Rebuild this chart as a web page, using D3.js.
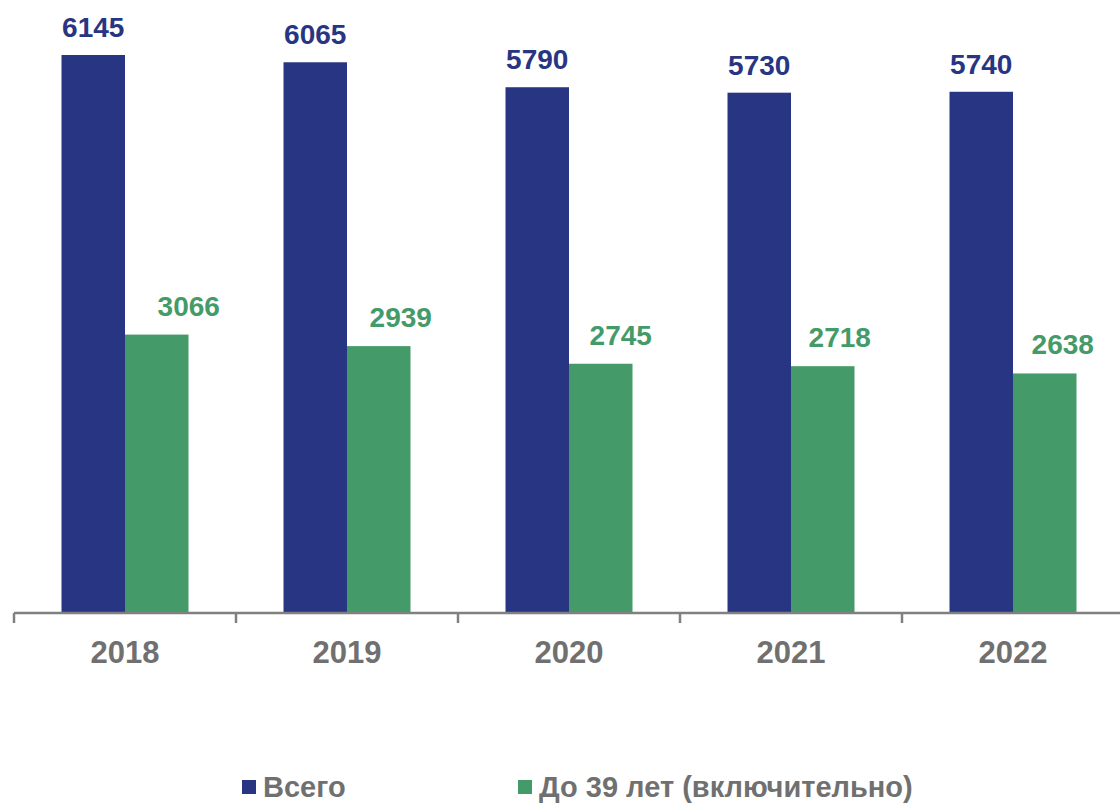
<!DOCTYPE html>
<html>
<head>
<meta charset="utf-8">
<script src="https://cdn.jsdelivr.net/npm/d3@7"></script>
<style>
  html, body { margin: 0; padding: 0; background: #ffffff; }
  svg { display: block; font-family: Arial, "Liberation Sans", sans-serif; }
</style>
</head>
<body>
<svg id="chart" width="1120" height="805"></svg>
<script>
// ---- data ----
const years = ["2018", "2019", "2020", "2021", "2022"];
const seriesNames = ["Всего", "До 39 лет (включительно)"];
const totalValues = [6145, 6065, 5790, 5730, 5740];
const youngValues = [3066, 2939, 2745, 2718, 2638];

// ---- style ----
const colors = ["#283583", "#449a68"];
const greenLabelNudge = [32, 22, 20, 17, 18];
const axisColor = "#808080";
const textGray = "#707070";

const svg = d3.select("#chart");
const baseY = 613;

const x = d3.scaleBand().domain(years).range([14, 1124]).paddingInner(0).paddingOuter(0);
const groupW = 127;
const x1 = d3.scaleBand().domain([0, 1]).range([0, groupW]).padding(0);
const y = d3.scaleLinear().domain([0, 6145]).range([baseY, 55]);

const rows = years.map((yr, i) => ({ year: yr, i, vals: [totalValues[i], youngValues[i]] }));

const groups = svg.append("g").selectAll("g").data(rows).join("g")
  .attr("transform", d => `translate(${x(d.year) + x.bandwidth() / 2 - groupW / 2},0)`);

groups.selectAll("rect").data(d => d.vals.map((v, s) => ({ v, s, i: d.i }))).join("rect")
  .attr("x", d => x1(d.s))
  .attr("width", x1.bandwidth())
  .attr("y", d => y(d.v))
  .attr("height", d => baseY - y(d.v))
  .attr("fill", d => colors[d.s]);

groups.selectAll("text.val").data(d => d.vals.map((v, s) => ({ v, s, i: d.i }))).join("text")
  .attr("class", "val")
  .attr("x", d => x1(d.s) + x1.bandwidth() / 2 + (d.s === 1 ? greenLabelNudge[d.i] : 0))
  .attr("y", d => y(d.v) - (d.s === 0 ? 18 : 19))
  .attr("text-anchor", "middle")
  .attr("font-size", 28)
  .attr("font-weight", "bold")
  .attr("fill", d => colors[d.s])
  .text(d => d.v);

// axis
const axisG = svg.append("g");
axisG.append("line")
  .attr("x1", x.range()[0]).attr("x2", 1120)
  .attr("y1", baseY).attr("y2", baseY)
  .attr("stroke", axisColor).attr("stroke-width", 2.5);
axisG.selectAll("line.tick").data(years).join("line")
  .attr("class", "tick")
  .attr("x1", d => x(d)).attr("x2", d => x(d))
  .attr("y1", baseY).attr("y2", baseY + 10)
  .attr("stroke", axisColor).attr("stroke-width", 2.5);
axisG.selectAll("text").data(years).join("text")
  .attr("x", d => x(d) + x.bandwidth() / 2)
  .attr("y", 663)
  .attr("text-anchor", "middle")
  .attr("font-size", 31)
  .attr("font-weight", "bold")
  .attr("fill", textGray)
  .text(d => d);

// legend
const legendX = [242, 518];
const lg = svg.append("g").selectAll("g").data(seriesNames).join("g")
  .attr("transform", (d, i) => `translate(${legendX[i]},0)`);
lg.append("rect").attr("x", 0).attr("y", 780).attr("width", 14).attr("height", 14)
  .attr("fill", (d, i) => colors[i]);
lg.append("text").attr("x", 21).attr("y", 797)
  .attr("font-size", 29).attr("font-weight", "bold").attr("fill", textGray)
  .text(d => d);
</script>
</body>
</html>
